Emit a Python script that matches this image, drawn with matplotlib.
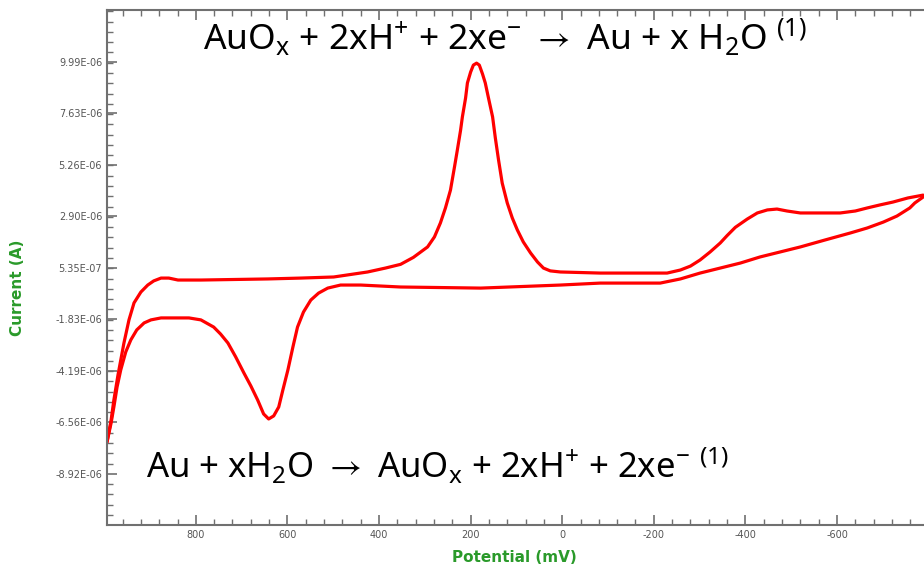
import matplotlib
matplotlib.use("Agg")
import matplotlib.pyplot as plt
import numpy as np
from matplotlib.ticker import AutoMinorLocator, FixedLocator, MultipleLocator

# potential (mV) and current (uA), left -> right
upper_mv = [994, 985, 979, 970, 957, 946, 935, 920, 905, 892, 876, 859, 839, 789, 643, 571,
            499, 425, 386, 353, 325, 294, 279, 266, 255, 244, 235, 229, 222, 218, 211, 207,
            200, 194, 187, 181, 174, 168, 161, 152, 146, 139, 131, 120, 109, 98, 85, 69, 54,
            41, 26, 4, -83, -229, -258, -280, -301, -323, -345, -360, -378, -404, -426, -448,
            -469, -491, -520, -557, -607, -640, -666, -694, -722, -755, -788]
upper_ua = [-7.46, -6.45, -5.53, -4.38, -2.91, -1.85, -1.07, -0.57, -0.25, -0.06, 0.07, 0.07,
            -0.02, -0.02, 0.03, 0.07, 0.12, 0.35, 0.53, 0.70, 1.02, 1.50, 1.96, 2.60, 3.29,
            4.11, 5.20, 5.95, 6.85, 7.47, 8.34, 9.03, 9.53, 9.85, 9.94, 9.85, 9.44, 9.03,
            8.34, 7.47, 6.50, 5.49, 4.43, 3.52, 2.83, 2.28, 1.73, 1.22, 0.81, 0.53, 0.40,
            0.35, 0.30, 0.30, 0.44, 0.62, 0.90, 1.27, 1.68, 2.02, 2.40, 2.78, 3.06, 3.20,
            3.24, 3.15, 3.06, 3.06, 3.06, 3.15, 3.29, 3.43, 3.56, 3.75, 3.88]

lower_mv = [994, 985, 979, 972, 964, 953, 942, 929, 913, 898, 876, 839, 815, 789, 761, 746,
            730, 713, 695, 680, 665, 652, 641, 630, 619, 610, 599, 588, 578, 565, 549, 532,
            512, 484, 440, 353, 178, 4, -83, -214, -258, -301, -345, -389, -432, -476, -520,
            -574, -629, -666, -701, -731, -759, -770, -788]
lower_ua = [-7.46, -6.58, -5.85, -4.93, -4.15, -3.32, -2.77, -2.31, -1.99, -1.85, -1.76,
            -1.76, -1.76, -1.85, -2.18, -2.50, -2.91, -3.55, -4.29, -4.88, -5.53, -6.17,
            -6.40, -6.26, -5.85, -5.07, -4.15, -3.09, -2.18, -1.49, -0.94, -0.62, -0.39,
            -0.25, -0.25, -0.34, -0.39, -0.25, -0.16, -0.16, 0.03, 0.30, 0.53, 0.76, 1.04,
            1.27, 1.50, 1.82, 2.14, 2.37, 2.64, 2.92, 3.29, 3.52, 3.79]

ytick_vals = [9.99e-06, 7.63e-06, 5.26e-06, 2.90e-06, 5.35e-07,
              -1.83e-06, -4.19e-06, -6.56e-06, -8.92e-06]
ytick_labels = ["9.99E-06", "7.63E-06", "5.26E-06", "2.90E-06", "5.35E-07",
                "-1.83E-06", "-4.19E-06", "-6.56E-06", "-8.92E-06"]
xtick_vals = [800, 600, 400, 200, 0, -200, -400, -600]

eq_top = r"AuO$_x$ + 2xH$^{+}$ + 2xe$^{-}$ $\rightarrow$ Au + x H$_2$O $^{(1)}$"
eq_bottom = r"Au + xH$_2$O $\rightarrow$ AuO$_x$ + 2xH$^{+}$ + 2xe$^{-}$ $^{(1)}$"

plt.rcParams["mathtext.fontset"] = "custom"
plt.rcParams["mathtext.rm"] = "Noto Sans"
plt.rcParams["mathtext.it"] = "Noto Sans"
plt.rcParams["mathtext.default"] = "regular"
plt.rcParams["mathtext.fallback"] = "stixsans"

fig = plt.figure(figsize=(9.24, 5.69), dpi=100)
ax = fig.add_axes([0.1158, 0.0773, 0.8842, 0.9051])

ax.plot(upper_mv, np.array(upper_ua) * 1e-6, color="#ff0000", lw=2.3,
        solid_joinstyle="round", solid_capstyle="round")
ax.plot(lower_mv, np.array(lower_ua) * 1e-6, color="#ff0000", lw=2.3,
        solid_joinstyle="round", solid_capstyle="round")

ax.set_xlim(994, -790)
ax.set_ylim(-11.27e-6, 12.38e-6)

ax.xaxis.set_major_locator(FixedLocator(xtick_vals))
ax.set_xticklabels([str(v) for v in xtick_vals])
ax.xaxis.set_minor_locator(MultipleLocator(40))
ax.yaxis.set_major_locator(FixedLocator(ytick_vals))
ax.set_yticklabels(ytick_labels)
ax.yaxis.set_minor_locator(AutoMinorLocator(5))

ax.tick_params(which="both", direction="in", top=True, right=False, color="#707070",
               labelsize=7, labelcolor="#555555")
ax.tick_params(which="major", length=7, width=1.2)
ax.tick_params(which="minor", length=4, width=1.0)
for side in ["left", "top", "bottom"]:
    ax.spines[side].set_color("#707070")
    ax.spines[side].set_linewidth(1.5)
ax.spines["right"].set_visible(False)

ax.set_xlabel("Potential (mV)", color="#2a9a2a", fontsize=11, fontweight="bold")
ax.set_ylabel("Current (A)", color="#2a9a2a", fontsize=11, fontweight="bold")
ax.xaxis.set_label_coords(0.499, -0.048)
ax.yaxis.set_label_coords(-0.100, 0.46)

ax.text(0.487, 0.922, eq_top, transform=ax.transAxes, ha="center", va="baseline",
        fontsize=25.5, family="Noto Sans")
ax.text(0.404, 0.091, eq_bottom, transform=ax.transAxes, ha="center", va="baseline",
        fontsize=25, family="Noto Sans")

fig.savefig("out.png", dpi=100)
